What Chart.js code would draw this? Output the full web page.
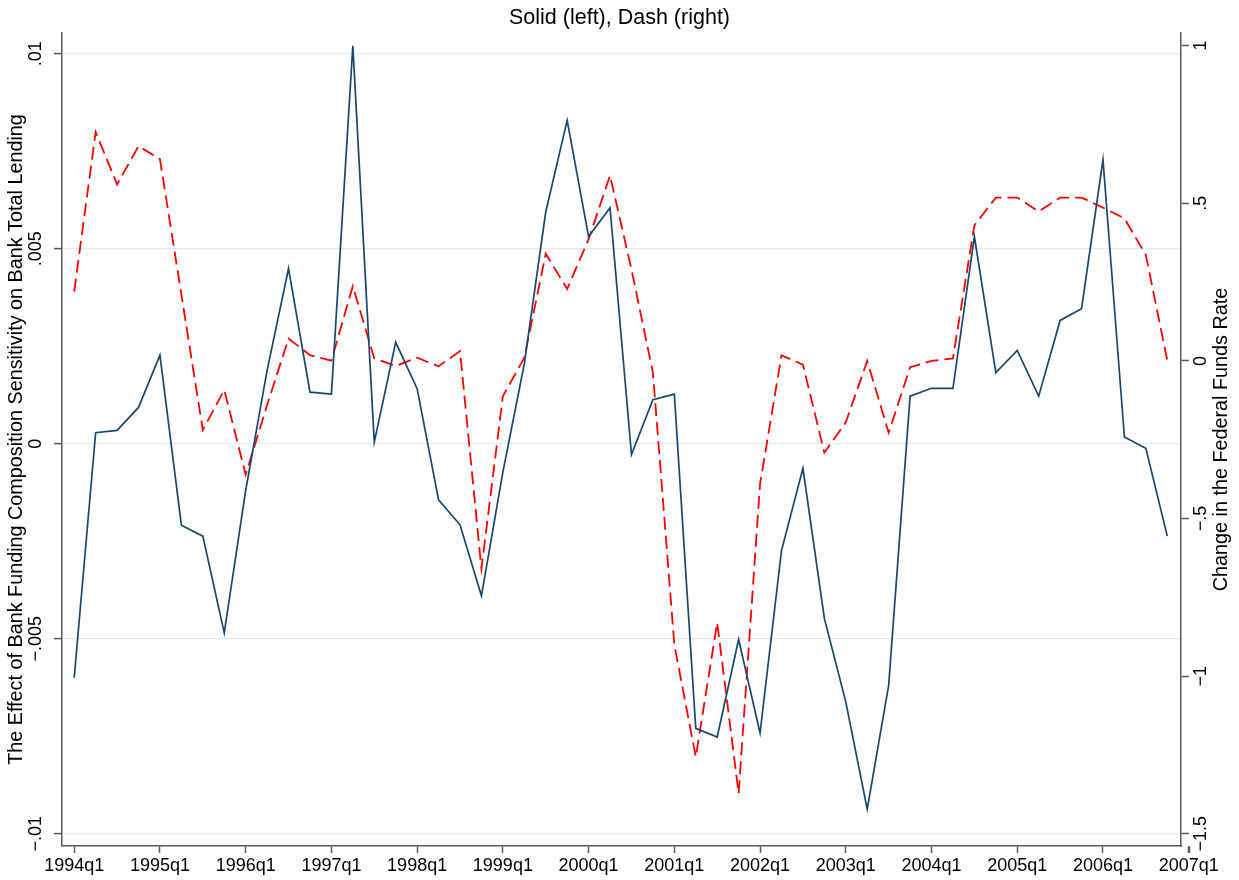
<!DOCTYPE html>
<html>
<head>
<meta charset="utf-8">
<title>Solid (left), Dash (right)</title>
<script src="https://cdn.jsdelivr.net/npm/chart.js@4.4.1/dist/chart.umd.min.js"></script>
<style>
  html, body { margin: 0; padding: 0; background: #fff; }
  #chart { display: block; }
</style>
</head>
<body>
<canvas id="chart" width="1239" height="880"></canvas>
<script>
// Quarters on the x axis (index 0 = 1994q1)
const quarters = [
    '1994q1', '1994q2', '1994q3', '1994q4', '1995q1', '1995q2', '1995q3', '1995q4',
    '1996q1', '1996q2', '1996q3', '1996q4', '1997q1', '1997q2', '1997q3', '1997q4',
    '1998q1', '1998q2', '1998q3', '1998q4', '1999q1', '1999q2', '1999q3', '1999q4',
    '2000q1', '2000q2', '2000q3', '2000q4', '2001q1', '2001q2', '2001q3', '2001q4',
    '2002q1', '2002q2', '2002q3', '2002q4', '2003q1', '2003q2', '2003q3', '2003q4',
    '2004q1', '2004q2', '2004q3', '2004q4', '2005q1', '2005q2', '2005q3', '2005q4',
    '2006q1', '2006q2', '2006q3', '2006q4'
];

// Solid line (left axis): effect of funding composition sensitivity
const solidLeft = [
    -0.00600, 0.00028, 0.00034, 0.00093, 0.00227, -0.00209, -0.00237, -0.00485,
    -0.00120, 0.00188, 0.00449, 0.00132, 0.00127, 0.01020, 0.00004, 0.00260,
    0.00141, -0.00144, -0.00208, -0.00390, -0.00073, 0.00205, 0.00594, 0.00829,
    0.00531, 0.00605, -0.00028, 0.00113, 0.00127, -0.00730, -0.00752, -0.00502,
    -0.00742, -0.00274, -0.00063, -0.00448, -0.00662, -0.00937, -0.00620, 0.00122,
    0.00142, 0.00142, 0.00531, 0.00182, 0.00239, 0.00122, 0.00316, 0.00346,
    0.00728, 0.00017, -0.00012, -0.00237
];

// Dashed line (right axis): change in the federal funds rate
const dashRight = [
    0.220, 0.726, 0.560, 0.681, 0.640, 0.210, -0.219, -0.092,
    -0.361, -0.140, 0.071, 0.018, 0.001, 0.237, 0.008, -0.016,
    0.010, -0.017, 0.031, -0.659, -0.112, 0.010, 0.340, 0.228,
    0.386, 0.588, 0.290, -0.037, -0.900, -1.256, -0.830, -1.372,
    -0.390, 0.018, -0.012, -0.291, -0.195, 0.000, -0.228, -0.020,
    0.000, 0.008, 0.430, 0.518, 0.518, 0.474, 0.518, 0.518,
    0.486, 0.452, 0.336, 0.001
];

// Tick values and labels
const xTickValues = [0, 4, 8, 12, 16, 20, 24, 28, 32, 36, 40, 44, 48, 52];
const xTickLabels = ['1994q1', '1995q1', '1996q1', '1997q1', '1998q1', '1999q1', '2000q1',
    '2001q1', '2002q1', '2003q1', '2004q1', '2005q1', '2006q1', '2007q1'];
const leftTickValues = [-0.01, -0.005, 0, 0.005, 0.01];
const leftTickLabels = ['\u2212.01', '\u2212.005', '0', '.005', '.01'];
const rightTickValues = [-1.5, -1, -0.5, 0, 0.5, 1];
const rightTickLabels = ['\u22121.5', '\u22121', '\u2212.5', '0', '.5', '1'];

const FONT = "'Liberation Sans', Arial, Helvetica, sans-serif";
const AXIS_COLOR = '#5a5a5a';
const GRID_COLOR = '#e1eaee';

/**
 * Builds the {x, y} points from a values array
 */
function toPoints(values) {
    return values.map((v, i) => ({ x: i, y: v }));
}

/**
 * Sets fixed ticks on a scale
 */
function fixedTicks(values) {
    return function(scale) {
        scale.ticks = values.map(v => ({ value: v }));
    };
}

// Plugin: right axis title (reads bottom-to-top like Stata) and the 2007q1 tick
const extrasPlugin = {
    id: 'extras',
    afterDraw(chart) {
        const ctx = chart.ctx;
        const x = chart.scales.x;
        const yR = chart.scales.yRight;

        ctx.save();
        // 2007q1 tick falls just outside the plot region
        const px = Math.round(x.getPixelForValue(52)) + 0.5;
        ctx.strokeStyle = AXIS_COLOR;
        ctx.lineWidth = 1.5;
        ctx.beginPath();
        ctx.moveTo(px, x.top);
        ctx.lineTo(px, x.top + 7);
        ctx.stroke();

        // Right axis title
        ctx.translate(1222, (yR.top + yR.bottom) / 2);
        ctx.rotate(-Math.PI / 2);
        ctx.fillStyle = '#000';
        ctx.font = '19.8px ' + FONT;
        ctx.textAlign = 'center';
        ctx.textBaseline = 'middle';
        ctx.fillText('Change in the Federal Funds Rate', 0, 0);
        ctx.restore();
    }
};

function createChart() {
    const ctx = document.getElementById('chart').getContext('2d');

    new Chart(ctx, {
        type: 'line',
        data: {
            datasets: [{
                label: 'Solid (left)',
                data: toPoints(solidLeft),
                yAxisID: 'yLeft',
                borderColor: '#1a476f',
                borderWidth: 1.7,
                pointRadius: 0,
                tension: 0,
                fill: false
            }, {
                label: 'Dash (right)',
                data: toPoints(dashRight),
                yAxisID: 'yRight',
                borderColor: '#ff0000',
                borderWidth: 1.8,
                borderDash: [13, 6],
                pointRadius: 0,
                tension: 0,
                fill: false
            }]
        },
        options: {
            responsive: false,
            animation: false,
            devicePixelRatio: 1,
            layout: { padding: 0 },
            plugins: {
                legend: { display: false },
                tooltip: { enabled: false },
                title: {
                    display: true,
                    text: 'Solid (left), Dash (right)',
                    color: '#000',
                    font: { family: FONT, size: 21.5, weight: 'normal' },
                    padding: { top: 5.1, bottom: 2.1 }
                }
            },
            scales: {
                x: {
                    type: 'linear',
                    min: -0.57,
                    max: 51.64,
                    afterBuildTicks: fixedTicks(xTickValues),
                    afterFit: function(scale) { scale.height = 34; },
                    border: { display: true, color: AXIS_COLOR, width: 1.5 },
                    grid: {
                        drawOnChartArea: false,
                        drawTicks: true,
                        tickLength: 7,
                        tickColor: AXIS_COLOR,
                        tickWidth: 1.5
                    },
                    ticks: {
                        autoSkip: false,
                        maxRotation: 0,
                        padding: 2,
                        color: '#000',
                        font: { family: FONT, size: 18 },
                        callback: function(value) {
                            return xTickLabels[xTickValues.indexOf(value)];
                        }
                    }
                },
                yLeft: {
                    type: 'linear',
                    position: 'left',
                    min: -0.010315,
                    max: 0.01053,
                    afterBuildTicks: fixedTicks(leftTickValues),
                    afterFit: function(scale) { scale.width = 62; },
                    border: { display: true, color: AXIS_COLOR, width: 1.5 },
                    grid: {
                        drawOnChartArea: true,
                        color: GRID_COLOR,
                        lineWidth: 1.2,
                        tickLength: 8,
                        tickColor: AXIS_COLOR,
                        tickWidth: 1.5
                    },
                    ticks: {
                        autoSkip: false,
                        minRotation: 90,
                        maxRotation: 90,
                        crossAlign: 'center',
                        padding: -5,
                        color: '#000',
                        font: { family: FONT, size: 18 },
                        callback: function(value) {
                            return leftTickLabels[leftTickValues.indexOf(value)];
                        }
                    },
                    title: {
                        display: true,
                        text: 'The Effect of Bank Funding Composition Sensitivity on Bank Total Lending',
                        color: '#000',
                        font: { family: FONT, size: 19.8 },
                        padding: { top: 5.1, bottom: 0 }
                    }
                },
                yRight: {
                    type: 'linear',
                    position: 'right',
                    min: -1.5386,
                    max: 1.040,
                    afterBuildTicks: fixedTicks(rightTickValues),
                    afterFit: function(scale) { scale.width = 58; },
                    border: { display: true, color: AXIS_COLOR, width: 1.5 },
                    grid: {
                        drawOnChartArea: false,
                        tickLength: 8,
                        tickColor: AXIS_COLOR,
                        tickWidth: 1.5
                    },
                    ticks: {
                        autoSkip: false,
                        minRotation: 90,
                        maxRotation: 90,
                        crossAlign: 'center',
                        padding: -5.75,
                        color: '#000',
                        font: { family: FONT, size: 18 },
                        callback: function(value) {
                            return rightTickLabels[rightTickValues.indexOf(value)];
                        }
                    }
                }
            }
        },
        plugins: [extrasPlugin]
    });
}

createChart();
</script>
</body>
</html>
